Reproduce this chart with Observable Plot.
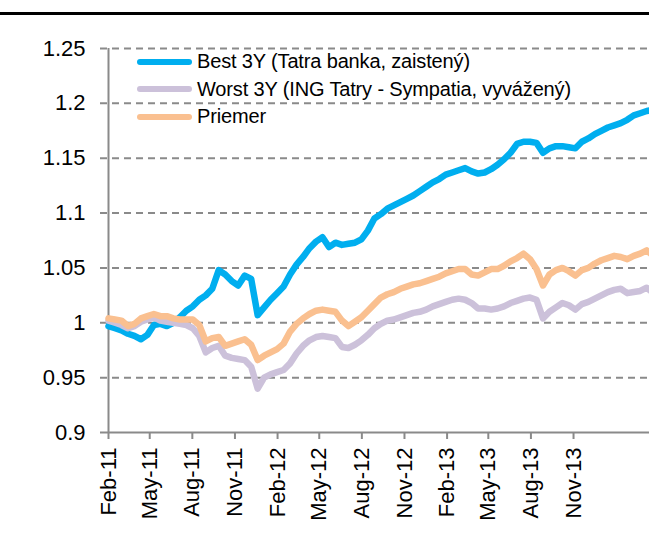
<!DOCTYPE html>
<html><head><meta charset="utf-8">
<script src="https://cdn.jsdelivr.net/npm/d3@7"></script>
<script src="https://cdn.jsdelivr.net/npm/@observablehq/plot@0.6"></script>
<style>
body{margin:0;background:#fff;}
#wrap{position:relative;width:649px;height:552px;font-family:"Liberation Sans",Arial,sans-serif;}
#topline{position:absolute;left:0;top:12px;width:649px;height:2.5px;background:#000;}
#legend{position:absolute;left:137px;top:48.3px;}
.row{display:flex;align-items:center;height:27.4px;font-size:20px;color:#000;letter-spacing:-0.15px;white-space:nowrap;}
.sw{width:55px;height:6px;border-radius:3px;margin-right:5px;}
</style>
</head><body>
<div id="wrap"><div id="topline"></div><div id="chart"></div><div id="legend"></div></div>
<script>
const seriesNames = ["Best 3Y (Tatra banka, zaistený)", "Worst 3Y (ING Tatry - Sympatia, vyvážený)", "Priemer"];
const seriesColors = ["#00AEEF", "#CCC1DA", "#FAC090"];

// biweekly observation dates starting Feb 1, 2011
const startDate = new Date("2011-02-01T00:00:00Z");
const best = [0.997,0.995,0.993,0.990,0.988,0.985,0.989,0.998,0.999,0.997,1.000,1.005,1.011,1.015,1.021,1.025,1.031,1.048,1.044,1.038,1.034,1.043,1.040,1.007,1.014,1.021,1.027,1.033,1.044,1.053,1.060,1.068,1.074,1.078,1.069,1.073,1.071,1.072,1.073,1.076,1.084,1.095,1.099,1.104,1.107,1.110,1.113,1.116,1.120,1.124,1.128,1.131,1.135,1.137,1.139,1.141,1.138,1.136,1.137,1.140,1.144,1.149,1.155,1.163,1.165,1.165,1.164,1.155,1.159,1.161,1.161,1.160,1.159,1.165,1.168,1.172,1.175,1.178,1.180,1.182,1.185,1.189,1.191,1.193,1.194];
const worst = [1.002,1.000,0.998,0.995,0.997,1.001,1.003,1.005,1.002,1.001,1.000,0.999,0.998,0.995,0.988,0.973,0.977,0.979,0.970,0.968,0.967,0.966,0.960,0.940,0.950,0.953,0.955,0.957,0.963,0.972,0.979,0.984,0.987,0.988,0.987,0.986,0.978,0.977,0.980,0.984,0.989,0.995,0.999,1.002,1.003,1.005,1.007,1.009,1.010,1.012,1.015,1.017,1.019,1.021,1.022,1.021,1.018,1.013,1.013,1.012,1.013,1.015,1.018,1.020,1.022,1.023,1.021,1.004,1.010,1.014,1.018,1.016,1.012,1.017,1.019,1.022,1.025,1.028,1.030,1.031,1.027,1.028,1.029,1.032,1.027];
const priemer = [1.004,1.003,1.002,0.997,0.999,1.004,1.006,1.008,1.006,1.006,1.004,1.003,1.003,1.003,0.998,0.983,0.986,0.987,0.979,0.981,0.983,0.985,0.980,0.966,0.970,0.973,0.976,0.981,0.992,0.999,1.004,1.008,1.011,1.012,1.011,1.010,1.002,0.997,1.001,1.005,1.011,1.017,1.023,1.026,1.028,1.031,1.033,1.035,1.036,1.038,1.040,1.042,1.045,1.047,1.049,1.049,1.044,1.043,1.046,1.049,1.049,1.052,1.056,1.059,1.063,1.058,1.049,1.034,1.044,1.048,1.050,1.047,1.043,1.048,1.050,1.054,1.057,1.059,1.061,1.060,1.058,1.061,1.063,1.066,1.061];

const yTicks = [0.9, 0.95, 1, 1.05, 1.1, 1.15, 1.2, 1.25];
const yTickLabels = ["0.9", "0.95", "1", "1.05", "1.1", "1.15", "1.2", "1.25"];
const xTicks = ["2011-02-01","2011-05-01","2011-08-01","2011-11-01","2012-02-01","2012-05-01","2012-08-01","2012-11-01","2013-02-01","2013-05-01","2013-08-01","2013-11-01"];
const xTickLabels = ["Feb-11","May-11","Aug-11","Nov-11","Feb-12","May-12","Aug-12","Nov-12","Feb-13","May-13","Aug-13","Nov-13"];

const dates = best.map((_, i) => d3.utcDay.offset(startDate, 14 * i));
const table = (arr) => arr.map((v, i) => ({date: dates[i], value: v}));
const xTickDates = xTicks.map(s => new Date(s + "T00:00:00Z"));
const gray = "#8a8a8a";
const font = "'Liberation Sans', Arial, sans-serif";

const chart = Plot.plot({
  width: 649, height: 552,
  marginTop: 48, marginBottom: 120, marginLeft: 100, marginRight: 0,
  style: {fontFamily: font, fontSize: "22px", background: "transparent", color: "#000"},
  x: {type: "utc", domain: [startDate, new Date("2014-04-14T00:00:00Z")], range: [108, 649], label: null},
  y: {domain: [0.9, 1.25], label: null},
  marks: [
    Plot.ruleY(yTicks.slice(1), {stroke: gray, strokeWidth: 2, strokeDasharray: "7,5"}),
    Plot.ruleY([0.9], {stroke: gray, strokeWidth: 2}),
    Plot.ruleX([startDate], {y1: 0.9, y2: 1.25, stroke: gray, strokeWidth: 2}),
    Plot.axisY({ticks: yTicks, tickFormat: (d) => yTickLabels[yTicks.indexOf(d)], tickSize: 0, tickPadding: 15, fontSize: 22, label: null, fill: "#000"}),
    Plot.axisX({ticks: xTickDates, tickFormat: (d) => xTickLabels[xTickDates.findIndex(t => +t === +d)], tickRotate: -90, tickSize: 7, tickPadding: 8, stroke: gray, strokeWidth: 2, fontSize: 22, label: null, fill: "#000"}),
    Plot.line(table(best), {x: "date", y: "value", stroke: seriesColors[0], strokeWidth: 6.5, strokeLinejoin: "round", strokeLinecap: "round", clip: true}),
    Plot.line(table(worst), {x: "date", y: "value", stroke: seriesColors[1], strokeWidth: 6.5, strokeLinejoin: "round", strokeLinecap: "round", clip: true}),
    Plot.line(table(priemer), {x: "date", y: "value", stroke: seriesColors[2], strokeWidth: 6.5, strokeLinejoin: "round", strokeLinecap: "round", clip: true})
  ]
});
document.getElementById("chart").appendChild(chart);

const legend = document.getElementById("legend");
seriesNames.forEach((name, i) => {
  const row = document.createElement("div");
  row.className = "row";
  const sw = document.createElement("div");
  sw.className = "sw";
  sw.style.background = seriesColors[i];
  const label = document.createElement("span");
  label.textContent = name;
  row.appendChild(sw);
  row.appendChild(label);
  legend.appendChild(row);
});
</script>
</body></html>
